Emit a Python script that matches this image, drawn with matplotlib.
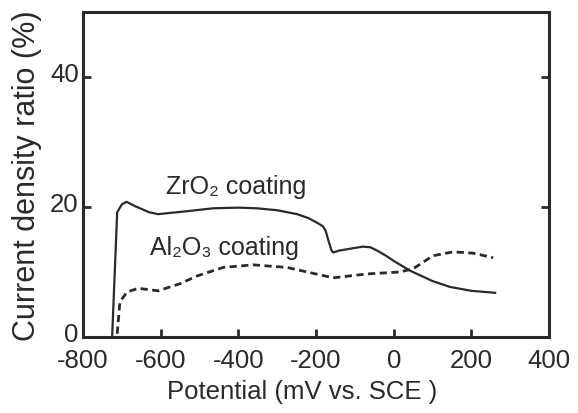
import matplotlib
matplotlib.use("Agg")
from matplotlib import pyplot as plt
from matplotlib.transforms import ScaledTranslation

# ZrO2 coating (solid line)
zrPotential = [-725, -712, -700, -688, -665, -630, -607, -540, -465, -400, -352, -300,
               -249, -220, -195, -182, -175, -168, -160, -156, -140, -110, -80, -60,
               -40, -20, 0, 42, 100, 145, 200, 261]
zrRatio = [0.0, 19.2, 20.4, 20.8, 20.1, 19.2, 18.9, 19.3, 19.8, 19.9, 19.8, 19.5,
           18.9, 18.3, 17.5, 17.0, 16.3, 14.8, 13.3, 13.0, 13.3, 13.6, 13.9, 13.8,
           13.2, 12.5, 11.7, 10.2, 8.6, 7.7, 7.1, 6.8]

# Al2O3 coating (dashed line)
alPotential = [-712, -705, -687, -658, -607, -550, -506, -439, -362, -275, -208, -156,
               -69, 16, 50, 101, 153, 204, 256]
alRatio = [0.5, 5.4, 6.9, 7.5, 7.1, 8.2, 9.4, 10.7, 11.1, 10.7, 9.8, 9.1,
           9.7, 10.0, 10.5, 12.5, 13.1, 12.9, 12.2]

xTicks = [-800, -600, -400, -200, 0, 200, 400]
yTicks = [0, 20, 40]

ink = "#2a2a2a"
plt.rcParams["font.family"] = ["Liberation Sans", "DejaVu Sans"]

fig = plt.figure(figsize=(5.78, 4.14), dpi=100)
ax = fig.add_axes([0.1436, 0.1836, 0.8064, 0.785])

ax.plot(zrPotential, zrRatio, color=ink, linewidth=1.6, solid_joinstyle="round")
ax.plot(alPotential, alRatio, color=ink, linewidth=2.0, dashes=(2.6, 1.6))

ax.text(-405, 23.2, "ZrO\u2082 coating", fontsize=18, color=ink, ha="center", va="center")
ax.text(-437, 13.8, "Al\u2082O\u2083 coating", fontsize=18, color=ink, ha="center", va="center")

ax.set_xlim(-800, 400)
ax.set_ylim(0, 50)
ax.set_xticks(xTicks)
ax.set_yticks(yTicks)
ax.set_xticklabels([str(t) for t in xTicks])
ax.tick_params(axis="both", direction="in", length=6, width=2, colors=ink, labelsize=18.5)
ax.tick_params(axis="x", pad=8)
ax.tick_params(axis="y", pad=3, right=True)

# y tick labels sit a little above their ticks in the original
for label in ax.get_yticklabels():
    label.set_transform(label.get_transform() + ScaledTranslation(0, 4 / 72, fig.dpi_scale_trans))

for spine in ax.spines.values():
    spine.set_linewidth(2.2)
    spine.set_color(ink)

ax.set_xlabel("Potential (mV vs. SCE )", fontsize=18.5, color=ink, labelpad=5)
ax.xaxis.label.set_x(0.47)
ax.set_ylabel("Current density ratio (%)", fontsize=22, color=ink, labelpad=6)

fig.savefig("out.png", dpi=100, facecolor="white")
